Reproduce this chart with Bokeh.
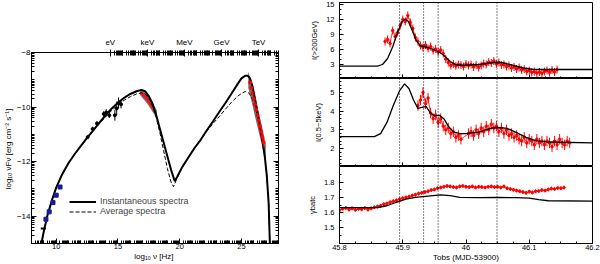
import numpy as np
from bokeh.plotting import figure
from bokeh.models import (LinearAxis, FixedTicker, Range1d, Span, Legend, LegendItem,
                          CustomJSTickFormatter, CustomLabelingPolicy)
from bokeh.layouts import row, column
from bokeh.embed import file_html
from bokeh.resources import INLINE

FONT = "Liberation Sans"

# ---------------- SED (left panel) ----------------
SED_X = [8.80, 9.0, 9.3, 9.7, 10.0, 10.5, 11.0, 11.5, 12.0, 12.5, 13.0, 13.5, 14.0, 14.5,
         15.0, 15.5, 16.0, 16.5, 16.9, 17.2, 17.5, 17.8, 18.1, 18.4, 18.7, 19.0, 19.3,
         19.6, 19.8, 20.2, 20.7, 21.2, 21.7, 22.2, 22.7, 23.2, 23.7, 24.2, 24.7, 25.0,
         25.3, 25.5, 25.7, 25.9, 26.1, 26.3, 26.5, 26.7, 26.9, 27.05, 27.2, 27.3]
SED_INST = [-15.0, -14.55, -13.95, -13.35, -12.95, -12.45, -12.05, -11.72, -11.42, -11.13,
            -10.85, -10.57, -10.30, -10.05, -9.84, -9.66, -9.52, -9.42, -9.37, -9.42, -9.60,
            -9.88, -10.30, -10.80, -11.30, -11.80, -12.30, -12.72, -12.55, -12.20, -11.85,
            -11.50, -11.20, -10.85, -10.52, -10.18, -9.85, -9.50, -9.15, -8.95, -8.85, -8.85,
            -8.95, -9.25, -9.70, -10.20, -10.70, -11.25, -11.85, -12.50, -13.50, -15.0]
AVG_X = [8.80, 9.0, 9.3, 9.7, 10.0, 10.5, 11.0, 11.5, 12.0, 12.5, 13.0, 13.5, 14.0, 14.5,
         15.0, 15.5, 16.0, 16.5, 16.9, 17.2, 17.5, 17.8, 18.1, 18.4, 18.7, 19.0, 19.3,
         19.5, 19.7, 20.2, 20.7, 21.2, 21.7, 22.2, 22.7, 23.2, 23.7, 24.2, 24.7, 25.0,
         25.3, 25.6, 25.9, 26.2, 26.5, 26.7, 26.9, 27.05, 27.2, 27.3]
SED_AVG = [-15.0, -14.55, -13.95, -13.35, -12.95, -12.45, -12.05, -11.72, -11.43, -11.15,
           -10.88, -10.61, -10.36, -10.12, -9.92, -9.75, -9.62, -9.52, -9.48, -9.52, -9.68,
           -9.95, -10.38, -10.95, -11.60, -12.25, -12.75, -12.92, -12.70, -12.22, -11.85,
           -11.50, -11.20, -10.88, -10.60, -10.35, -10.08, -9.82, -9.60, -9.50, -9.43,
           -9.48, -9.72, -10.10, -10.70, -11.25, -11.85, -12.50, -13.50, -15.0]

RADIO_X = [9.17, 9.43, 9.74, 10.0, 10.31]
RADIO_Y = [-14.11, -13.84, -13.50, -13.23, -12.93]
LOW_X = [8.95]
LOW_Y = [-14.45]

OPT_X = [12.55, 12.95, 13.30, 13.85, 14.05, 14.30, 14.75, 14.90, 15.05, 15.25]
OPT_Y = [-11.10, -10.80, -10.60, -10.25, -10.20, -10.30, -10.30, -10.05, -9.85, -9.90]
OPT_YERR = [0.05, 0.08, 0.08, 0.10, 0.12, 0.10, 0.20, 0.25, 0.20, 0.15]
OPT_XERR = [0.05, 0.05, 0.05, 0.10, 0.10, 0.05, 0.10, 0.10, 0.15, 0.10]

XR_X = [16.8, 17.1, 17.45, 17.8, 18.15]
XR_HI_GRAY = [-9.33, -9.43, -9.58, -9.83, -10.13]
XR_LO_GRAY = [-9.57, -9.72, -9.92, -10.17, -10.42]
XR_HI_RED = [-9.42, -9.50, -9.68, -9.93, -10.22]
XR_LO_RED = [-9.52, -9.64, -9.84, -10.10, -10.34]

TEV_BAND_X = [25.55, 25.90, 26.20, 26.50, 26.80, 26.97]
TEV_HI = [-8.70, -9.20, -9.80, -10.40, -11.00, -11.40]
TEV_LO = [-9.30, -9.95, -10.55, -11.10, -11.65, -11.95]
TEV_X = [25.70, 25.80, 25.90, 26.00, 26.10, 26.20, 26.30, 26.40, 26.50, 26.60, 26.70, 26.80]
TEV_Y = [-9.10, -9.30, -9.50, -9.70, -9.90, -10.10, -10.30, -10.50, -10.70, -10.90, -11.10, -11.30]
TEV_ERR = [0.06, 0.06, 0.07, 0.07, 0.08, 0.08, 0.09, 0.10, 0.12, 0.14, 0.16, 0.18]

SED_XTICKS = [10, 15, 20, 25]
SED_YTICKS = [-14, -12, -10, -8]
ENERGY_LABELS = ["eV", "keV", "MeV", "GeV", "TeV"]
EV_LOG_HZ = 14.383  # log10 frequency of 1 eV

# ---------------- light curves (right panels) ----------------
TOP_T = [45.872, 45.876, 45.880, 45.884, 45.888, 45.892, 45.896, 45.900, 45.904, 45.908,
         45.912, 45.916, 45.920, 45.924, 45.928, 45.932, 45.936, 45.940, 45.944, 45.948,
         45.952, 45.956, 45.960, 45.964, 45.968, 45.972, 45.976, 45.980, 45.984, 45.988,
         45.992, 45.996, 46.000, 46.004, 46.008, 46.012, 46.016, 46.020, 46.024, 46.028,
         46.032, 46.036, 46.040, 46.044, 46.048, 46.052, 46.056, 46.060, 46.064, 46.068,
         46.072, 46.076, 46.080, 46.084, 46.088, 46.092, 46.096, 46.100, 46.104, 46.108,
         46.112, 46.116, 46.120, 46.124, 46.128, 46.132, 46.136, 46.140, 46.144]
TOP_I = [7.6, 8.0, 7.2, 9.8, 8.6, 9.4, 10.8, 12.0, 11.6, 12.8,
         11.4, 10.2, 8.4, 7.6, 6.8, 6.4, 6.9, 6.2, 6.6, 5.8,
         6.1, 5.5, 5.9, 5.2, 4.1, 3.4, 2.8, 3.1, 2.7, 3.0,
         2.9, 2.6, 3.1, 2.8, 3.0, 2.5, 2.9, 2.4, 2.8, 3.2,
         3.0, 3.5, 3.3, 3.7, 3.1, 3.4, 2.9, 3.0, 2.6, 2.8,
         2.3, 2.5, 2.1, 2.4, 1.9, 2.1, 1.6, 1.8, 1.4, 1.6,
         1.3, 1.5, 1.2, 1.6, 1.8, 1.4, 1.9, 1.5, 2.0]
TOP_ERR = 0.8

MID_T = [45.924, 45.928, 45.932, 45.936, 45.940, 45.944, 45.948, 45.952, 45.956, 45.960,
         45.964, 45.968, 45.972, 45.976, 45.980, 45.984, 45.988, 45.992,
         46.004, 46.008, 46.012, 46.016, 46.020, 46.024, 46.028, 46.032, 46.036, 46.040,
         46.044, 46.048, 46.052, 46.056, 46.060, 46.064, 46.068, 46.072, 46.076, 46.080,
         46.084, 46.088, 46.092, 46.096, 46.100, 46.104, 46.108, 46.112, 46.116, 46.120,
         46.124, 46.128, 46.132, 46.136, 46.140, 46.144, 46.148, 46.152, 46.156, 46.160,
         46.164]
MID_I = [4.3, 4.6, 5.0, 4.4, 4.7, 3.9, 3.6, 3.8, 3.4, 3.6,
         3.2, 3.0, 3.1, 2.8, 2.9, 2.6, 2.7, 2.5,
         2.8, 2.9, 2.7, 3.0, 2.8, 3.1, 2.9, 3.2, 3.0, 3.3,
         3.1, 3.2, 2.9, 3.1, 2.8, 3.0, 2.7, 2.8, 2.6, 2.7,
         2.5, 2.4, 2.6, 2.3, 2.5, 2.4, 2.2, 2.5, 2.3, 2.4,
         2.2, 2.4, 2.3, 2.1, 2.4, 2.2, 2.5, 2.3, 2.2, 2.4,
         2.3]
MID_ERR = 0.28

BOT_T = [45.800, 45.805, 45.810, 45.815, 45.820, 45.825, 45.830, 45.835, 45.840, 45.845,
         45.850, 45.855, 45.860, 45.865, 45.870, 45.875, 45.880, 45.885, 45.890, 45.895,
         45.900, 45.905, 45.910, 45.915, 45.920, 45.925, 45.930, 45.935, 45.940, 45.945,
         45.950, 45.955, 45.960, 45.965, 45.970, 45.975, 45.980, 45.985, 45.990, 45.995,
         46.000, 46.005, 46.010, 46.015, 46.020, 46.025, 46.030, 46.035, 46.040, 46.045,
         46.050, 46.055, 46.060, 46.065, 46.070, 46.075, 46.080, 46.085, 46.090, 46.095,
         46.100, 46.105, 46.110, 46.115, 46.120, 46.125, 46.130, 46.135, 46.140, 46.145,
         46.150, 46.155]
BOT_G = [1.615, 1.625, 1.630, 1.620, 1.628, 1.618, 1.625, 1.622, 1.630, 1.620,
         1.628, 1.635, 1.640, 1.645, 1.655, 1.660, 1.668, 1.675, 1.680, 1.688,
         1.695, 1.700, 1.705, 1.712, 1.718, 1.725, 1.730, 1.735, 1.740, 1.748,
         1.752, 1.760, 1.765, 1.770, 1.775, 1.772, 1.768, 1.765, 1.772, 1.775,
         1.770, 1.768, 1.772, 1.765, 1.770, 1.768, 1.765, 1.770, 1.772, 1.768,
         1.770, 1.765, 1.772, 1.760, 1.755, 1.750, 1.745, 1.740, 1.735, 1.730,
         1.738, 1.732, 1.740, 1.742, 1.748, 1.745, 1.752, 1.758, 1.755, 1.762,
         1.760, 1.765]
BOT_ERR = 0.012

TOP_MODEL_T = [45.80, 45.86, 45.868, 45.876, 45.884, 45.892, 45.899, 45.904, 45.909, 45.915,
               45.921, 45.927, 45.934, 45.94, 45.95, 45.96, 45.967, 45.975, 45.983, 45.992,
               46.00, 46.02, 46.04, 46.05, 46.06, 46.075, 46.09, 46.105, 46.12, 46.20]
TOP_MODEL_I = [2.67, 2.67, 3.0, 4.2, 6.5, 9.5, 11.6, 12.1, 11.6, 9.8,
               7.9, 6.8, 6.6, 6.4, 5.9, 5.3, 4.6, 3.6, 3.0, 2.85,
               2.85, 3.0, 3.35, 3.45, 3.3, 2.8, 2.3, 2.05, 2.0, 2.0]
MID_MODEL_T = [45.80, 45.855, 45.865, 45.875, 45.885, 45.895, 45.903, 45.91, 45.917, 45.924,
               45.93, 45.937, 45.944, 45.95, 45.958, 45.965, 45.972, 45.98, 45.99, 46.00,
               46.02, 46.04, 46.055, 46.065, 46.08, 46.095, 46.11, 46.13, 46.20]
MID_MODEL_I = [2.64, 2.64, 2.8, 3.4, 4.3, 5.1, 5.46, 5.2, 4.6, 4.15,
               4.2, 4.25, 3.9, 3.75, 3.78, 3.6, 3.2, 2.9, 2.8, 2.8,
               2.88, 3.1, 3.12, 3.08, 2.85, 2.6, 2.42, 2.35, 2.3]
BOT_MODEL_T = [45.80, 45.86, 45.875, 45.89, 45.905, 45.92, 45.94, 45.96, 45.975, 45.99,
               46.02, 46.05, 46.08, 46.10, 46.115, 46.13, 46.20]
BOT_MODEL_G = [1.633, 1.633, 1.645, 1.668, 1.688, 1.700, 1.708, 1.716, 1.712, 1.700,
               1.698, 1.700, 1.698, 1.695, 1.685, 1.678, 1.676]

VLINES = [45.895, 45.933, 45.956, 46.049]
T_TICKS = [45.8, 45.9, 46.0, 46.1, 46.2]

NO_LABELS = CustomLabelingPolicy(code="const a = Array.from(indices); for (const i of a) indices.unset(i); return indices;")
EMPTY_FMT = CustomJSTickFormatter(code="return '';")


def style_axis(ax, major_in=5, minor_in=3, major_out=0, minor_out=0, size="8px"):
    ax.major_tick_in = major_in
    ax.major_tick_out = major_out
    ax.minor_tick_in = minor_in
    ax.minor_tick_out = minor_out
    ax.major_tick_line_color = "black"
    ax.minor_tick_line_color = "black"
    ax.axis_line_color = "black"
    ax.major_label_text_font = FONT
    ax.major_label_text_font_size = size
    ax.major_label_text_color = "black"
    ax.axis_label_text_font = FONT
    ax.axis_label_text_font_size = size
    ax.axis_label_text_font_style = "normal"
    ax.axis_label_text_color = "black"
    ax.major_label_standoff = 1
    ax.axis_label_standoff = 1


def hide_labels(ax):
    ax.formatter = EMPTY_FMT
    ax.major_label_policy = NO_LABELS
    ax.major_label_text_font_size = "0px"
    ax.major_label_standoff = 0


def log_minor(n0, n1, majors):
    out = []
    for n in range(n0, n1):
        for k in range(1, 10):
            v = n + np.log10(k)
            if all(abs(v - m) > 1e-6 for m in majors):
                out.append(float(v))
    return out

# ---------------- left figure ----------------
p = figure(width=300, height=264, x_range=Range1d(8, 28), y_range=Range1d(-15, -8),
           output_backend="svg", toolbar_location=None,
           min_border_left=25, min_border_right=22, min_border_top=52, min_border_bottom=21,
           background_fill_color="white", border_fill_color="white")
p.grid.visible = False
p.outline_line_color = "black"

p.xaxis.ticker = FixedTicker(ticks=SED_XTICKS, minor_ticks=log_minor(8, 28, SED_XTICKS))
p.yaxis.ticker = FixedTicker(ticks=SED_YTICKS, minor_ticks=log_minor(-15, -8, SED_YTICKS))
p.xaxis.axis_label = "log₁₀ ν  [Hz]"
p.yaxis.axis_label = "log₁₀ νFν  [erg cm⁻² s⁻¹]"
style_axis(p.xaxis[0], size="7.5px")
style_axis(p.yaxis[0])
p.xaxis.axis_label_text_font_size = "8px"
p.xaxis.major_label_standoff = 0
p.xaxis.axis_label_standoff = 0

e_major = [EV_LOG_HZ + 3 * i for i in range(len(ENERGY_LABELS))]
e_minor = [EV_LOG_HZ + n + float(np.log10(k)) for n in range(0, 14) for k in range(1, 10)]
e_minor = [v for v in e_minor if all(abs(v - m) > 1e-6 for m in e_major)]
top = LinearAxis(ticker=FixedTicker(ticks=e_major, minor_ticks=e_minor),
                 formatter=CustomJSTickFormatter(args=dict(names=ENERGY_LABELS, base=EV_LOG_HZ),
                                                 code="const i = Math.round((tick - base) / 3); return names[i] || '';"))
style_axis(top, major_in=4, minor_in=3, major_out=3, minor_out=2)
top.major_label_standoff = 3
top.axis_line_color = None
p.add_layout(top, "above")

right = LinearAxis(ticker=FixedTicker(ticks=SED_YTICKS, minor_ticks=log_minor(-15, -8, SED_YTICKS)))
style_axis(right)
hide_labels(right)
p.add_layout(right, "right")

p.varea(x=XR_X, y1=XR_LO_GRAY, y2=XR_HI_GRAY, fill_color="#707070")
p.varea(x=XR_X, y1=XR_LO_RED, y2=XR_HI_RED, fill_color="#ff1010")
p.varea(x=TEV_BAND_X, y1=TEV_LO, y2=TEV_HI, fill_color="#707070")

r_avg = p.line(AVG_X, SED_AVG, line_color="black", line_width=1, line_dash="4 2")
r_inst = p.line(SED_X, SED_INST, line_color="black", line_width=2)

tev_lo = [y - e for y, e in zip(TEV_Y, TEV_ERR)]
tev_hi = [y + e for y, e in zip(TEV_Y, TEV_ERR)]
p.segment(x0=TEV_X, y0=tev_lo, x1=TEV_X, y1=tev_hi, line_color="red", line_width=1)
p.scatter(TEV_X, TEV_Y, marker="square", size=2.5, color="red")

p.scatter(RADIO_X, RADIO_Y, marker="square", size=4, color="#1a1a9a")
p.scatter(LOW_X, LOW_Y, marker="dash", size=5, color="black", line_width=2)

opt_lo = [y - e for y, e in zip(OPT_Y, OPT_YERR)]
opt_hi = [y + e for y, e in zip(OPT_Y, OPT_YERR)]
p.segment(x0=OPT_X, y0=opt_lo, x1=OPT_X, y1=opt_hi, line_color="black", line_width=1)
opt_l = [x - e for x, e in zip(OPT_X, OPT_XERR)]
opt_r = [x + e for x, e in zip(OPT_X, OPT_XERR)]
p.segment(x0=opt_l, y0=OPT_Y, x1=opt_r, y1=OPT_Y, line_color="black", line_width=1)
p.scatter(OPT_X, OPT_Y, marker="circle", size=3, color="black")

legend = Legend(items=[LegendItem(label="Instantaneous spectra", renderers=[r_inst]),
                       LegendItem(label="Average spectra", renderers=[r_avg])],
                location=(38, 27), border_line_alpha=0, background_fill_alpha=0,
                label_text_font=FONT, label_text_font_size="9px", glyph_width=27,
                glyph_height=9, label_height=9, spacing=0, padding=0, margin=0,
                label_standoff=4)
p.add_layout(legend)

# ---------------- right figures ----------------
TR = Range1d(45.8, 46.2)
t_minor = [45.825, 45.85, 45.875, 45.925, 45.95, 45.975, 46.025, 46.05, 46.075, 46.125, 46.15, 46.175]
t_fmt = CustomJSTickFormatter(code="return Math.abs(tick - 46) < 1e-6 ? '46' : tick.toFixed(1);")


def right_panel(height, y0, y1, yticks, yminor, ylabel, bottom, mtop, mbottom):
    f = figure(width=300, height=height, x_range=TR, y_range=Range1d(y0, y1),
               output_backend="svg", toolbar_location=None,
               min_border_left=39, min_border_right=8, min_border_top=mtop, min_border_bottom=mbottom,
               background_fill_color="white", border_fill_color="white")
    f.grid.visible = False
    f.outline_line_color = "black"
    f.xaxis.ticker = FixedTicker(ticks=T_TICKS, minor_ticks=t_minor)
    f.yaxis.ticker = FixedTicker(ticks=yticks, minor_ticks=yminor)
    f.yaxis.axis_label = ylabel
    style_axis(f.xaxis[0], major_in=4, minor_in=2, size="7.5px")
    style_axis(f.yaxis[0], major_in=4, minor_in=2, size="7.5px")
    f.yaxis.major_label_standoff = 5
    f.yaxis.axis_label_standoff = 4
    if bottom:
        f.xaxis.formatter = t_fmt
        f.xaxis.axis_label = "Tobs (MJD-53900)"
        f.xaxis.axis_label_text_font_size = "8px"
        f.xaxis.major_label_standoff = 1
        f.xaxis.axis_label_standoff = 0
    else:
        hide_labels(f.xaxis[0])
        f.xaxis.fixed_location = y0
    for v in VLINES:
        f.add_layout(Span(location=v, dimension="height", line_color="black",
                          line_width=1, line_dash="1 2"))
    return f


f1 = right_panel(78, 0.2, 15.4, [3, 6, 9, 12, 15], [1, 2, 4, 5, 7, 8, 10, 11, 13, 14],
                 "I(>200GeV)", False, 2, 0)
f2 = right_panel(88, 1.04, 5.75, [2, 3, 4, 5],
                 [1.2, 1.4, 1.6, 1.8, 2.2, 2.4, 2.6, 2.8, 3.2, 3.4, 3.6, 3.8, 4.2, 4.4, 4.6, 4.8, 5.2, 5.4, 5.6],
                 "I(0.5−5keV)", False, 0, 0)
f3 = right_panel(98, 1.397, 1.903, [1.5, 1.6, 1.7, 1.8], [1.45, 1.55, 1.65, 1.75, 1.85],
                 "γbatc", True, 0, 21)

for f, t, v, e in ((f1, TOP_T, TOP_I, TOP_ERR), (f2, MID_T, MID_I, MID_ERR), (f3, BOT_T, BOT_G, BOT_ERR)):
    lo = [y - e for y in v]
    hi = [y + e for y in v]
    f.segment(x0=t, y0=lo, x1=t, y1=hi, line_color="red", line_width=1)
    f.line(t, v, line_color="red", line_width=0.8)
    f.scatter(t, v, marker="circle", size=2.5, color="red")

f1.line(TOP_MODEL_T, TOP_MODEL_I, line_color="black", line_width=1.3)
f2.line(MID_MODEL_T, MID_MODEL_I, line_color="black", line_width=1.3)
f3.line(BOT_MODEL_T, BOT_MODEL_G, line_color="black", line_width=1.3)

layout = row(p, column(f1, f2, f3, spacing=0), spacing=0)
open("out.html", "w").write(file_html(layout, INLINE))
